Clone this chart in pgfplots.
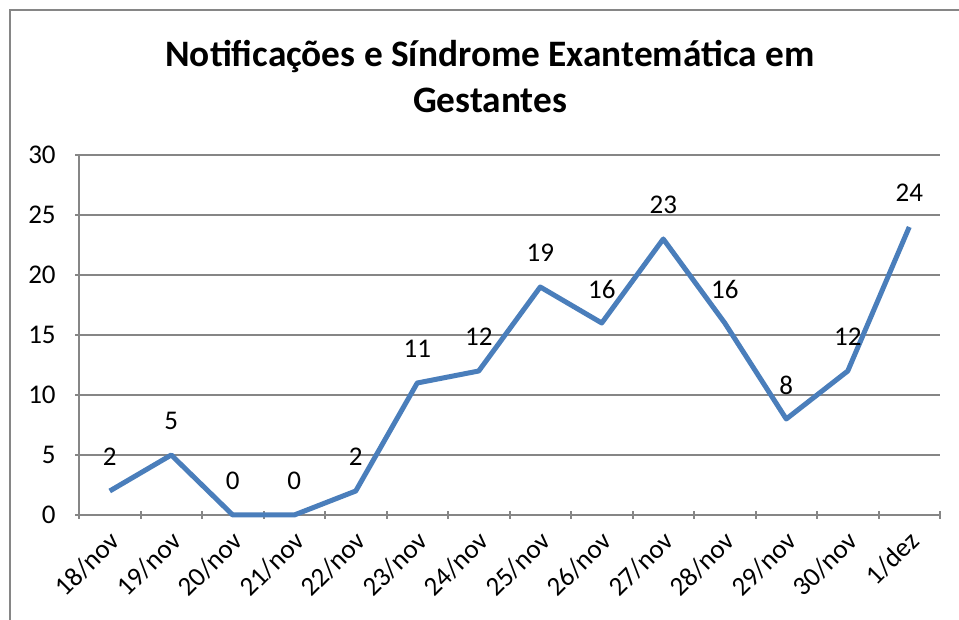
\documentclass[border=0pt]{standalone}
\usepackage{pgfplots}
\pgfplotsset{compat=1.18}
\usepackage{fontspec}
\setmainfont{Carlito}
\definecolor{serie}{HTML}{4A7EBB}
\definecolor{grade}{HTML}{868686}

\begin{document}
\begin{tikzpicture}
% picture frame: 959 x 620 px, 1px = 0.75pt
\path[use as bounding box] (0,0) rectangle (719.25pt,465pt);
\draw[grade, line width=1.5pt] (7.5pt,0) -- (7.5pt,457.5pt) -- (719.25pt,457.5pt);
\node[font=\fontsize{28pt}{34pt}\selectfont\bfseries] at (367.5pt,422.25pt) {Notificações e Síndrome Exantemática em};
\node[font=\fontsize{28pt}{34pt}\selectfont\bfseries] at (367.5pt,390pt) {Gestantes};
\begin{axis}[
  at={(59.25pt,78.75pt)}, anchor=south west,
  width=645.75pt, height=270pt, scale only axis,
  xmin=-0.5, xmax=13.5, ymin=0, ymax=30,
  % tick marks between categories, names at the categories
  xtick={-0.5,0.5,...,13.5}, xticklabels={},
  extra x ticks={0,...,13},
  extra x tick labels={18/nov,19/nov,20/nov,21/nov,22/nov,23/nov,24/nov,25/nov,26/nov,27/nov,28/nov,29/nov,30/nov,1/dez},
  extra x tick style={major tick length=0pt, grid=none},
  ytick={0,5,...,30},
  tick align=outside, major tick length=6pt,
  tick style={grade, line width=1.5pt},
  axis x line=bottom, axis y line=left,
  axis line style={grade, line width=1.5pt, -},
  ymajorgrids, grid style={grade, line width=1.5pt},
  tick label style={font=\fontsize{20.25pt}{24pt}\selectfont, black},
  /pgf/number format/assume math mode=true,
  x tick label style={xshift=6.5pt, yshift=-13.5pt, rotate=45, anchor=east},
  y tick label style={xshift=-11pt},
  nodes near coords,
  every node near coord/.append style={font=\fontsize{20.25pt}{24pt}\selectfont, black, anchor=center, yshift=25.5pt},
  clip=false]
\addplot[serie, line width=3.75pt, line join=round] coordinates {
  (0,2) (1,5) (2,0) (3,0) (4,2) (5,11) (6,12) (7,19) (8,16) (9,23) (10,16) (11,8) (12,12) (13,24)};
\end{axis}
\end{tikzpicture}
\end{document}
